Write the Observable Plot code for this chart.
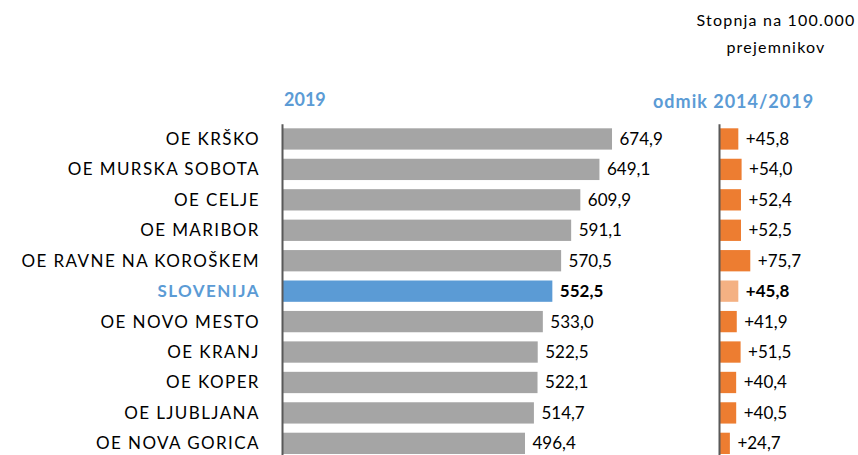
<!DOCTYPE html>
<html>
<head>
<meta charset="utf-8">
<script src="https://cdn.jsdelivr.net/npm/d3@7"></script>
<script src="https://cdn.jsdelivr.net/npm/@observablehq/plot@0.6"></script>
<style>
  html, body { margin: 0; padding: 0; background: #fff; overflow: hidden; }
  #wrap { position: relative; width: 858px; height: 455px; overflow: hidden; font-family: Lato, sans-serif; }
  .abs { position: absolute; }
  .hdr { color: #5B9BD5; font-weight: bold; font-size: 18px; }
  .unit { font-size: 16px; letter-spacing: 1.2px; color: #000; text-align: center; width: 200px; left: 676px; line-height: 27px; top: 6px; }
</style>
</head>
<body>
<div id="wrap">
  <div class="abs unit">Stopnja na 100.000<br>prejemnikov</div>
  <div class="abs hdr" style="left:284px; top:88px;">2019</div>
  <div class="abs hdr" style="left:653px; top:90px; letter-spacing:1px;">odmik 2014/2019</div>
  <div id="left" class="abs" style="left:0; top:0;"></div>
  <div id="right" class="abs" style="left:700px; top:0;"></div>
</div>
<script>
const categories = ["OE KRŠKO", "OE MURSKA SOBOTA", "OE CELJE", "OE MARIBOR", "OE RAVNE NA KOROŠKEM", "SLOVENIJA", "OE NOVO MESTO", "OE KRANJ", "OE KOPER", "OE LJUBLJANA", "OE NOVA GORICA"];
const rate2019 = [674.9, 649.1, 609.9, 591.1, 570.5, 552.5, 533.0, 522.5, 522.1, 514.7, 496.4];
const change2014_2019 = [45.8, 54.0, 52.4, 52.5, 75.7, 45.8, 41.9, 51.5, 40.4, 40.5, 24.7];
const totalLabel = "SLOVENIJA";

const data = categories.map((c, i) => ({cat: c, v: rate2019[i], d: change2014_2019[i], total: c === totalLabel}));
const fmt = v => v.toFixed(1).replace(".", ",");
const fmtD = v => "+" + v.toFixed(1).replace(".", ",");
const font = "Lato, sans-serif";

const yScale = {domain: categories, padding: 0.3, round: false, axis: null};
const H = 465, MT = 119.17, MB = 1.86;

const left = Plot.plot({
  width: 700, height: H,
  marginLeft: 283, marginRight: 27, marginTop: MT, marginBottom: MB,
  style: {fontFamily: font, background: "transparent", overflow: "visible"},
  x: {domain: [0, 800], axis: null},
  y: yScale,
  marks: [
    Plot.barX(data, {x: "v", y: "cat", fill: d => d.total ? "#5B9BD5" : "#A5A5A5"}),
    Plot.ruleX([0], {stroke: "#595959", strokeWidth: 2, insetTop: 5.1, dx: -1}),
    Plot.text(data.filter(d => !d.total), {x: 0, y: "cat", text: "cat", dx: -23.6, textAnchor: "end", fontSize: 17, fill: "#000"}),
    Plot.text(data.filter(d => d.total), {x: 0, y: "cat", text: "cat", dx: -23.6, textAnchor: "end", fontSize: 17, fill: "#5B9BD5", fontWeight: "bold"}),
    Plot.text(data.filter(d => !d.total), {x: "v", y: "cat", text: d => fmt(d.v), dx: 7, textAnchor: "start", fontSize: 17, fill: "#000"}),
    Plot.text(data.filter(d => d.total), {x: "v", y: "cat", text: d => fmt(d.v), dx: 7, textAnchor: "start", fontSize: 17, fill: "#000", fontWeight: "bold"})
  ]
});
// widen the category labels a little (Calibri-like spacing)
d3.select(left).selectAll("text").filter(function() { return categories.includes(this.textContent); })
  .style("letter-spacing", "1.4px");
document.getElementById("left").appendChild(left);

const right = Plot.plot({
  width: 158, height: H,
  marginLeft: 20, marginRight: 98, marginTop: MT, marginBottom: MB,
  style: {fontFamily: font, background: "transparent", overflow: "visible"},
  x: {domain: [0, 100], axis: null},
  y: yScale,
  marks: [
    Plot.barX(data, {x: "d", y: "cat", fill: d => d.total ? "#F4B183" : "#ED7D31"}),
    Plot.ruleX([0], {stroke: "#595959", strokeWidth: 2, insetTop: 5.1, dx: -1}),
    Plot.text(data.filter(d => !d.total), {x: "d", y: "cat", text: d => fmtD(d.d), dx: 7, textAnchor: "start", fontSize: 17, fill: "#000"}),
    Plot.text(data.filter(d => d.total), {x: "d", y: "cat", text: d => fmtD(d.d), dx: 7, textAnchor: "start", fontSize: 17, fill: "#000", fontWeight: "bold"})
  ]
});
document.getElementById("right").appendChild(right);
</script>
</body>
</html>
